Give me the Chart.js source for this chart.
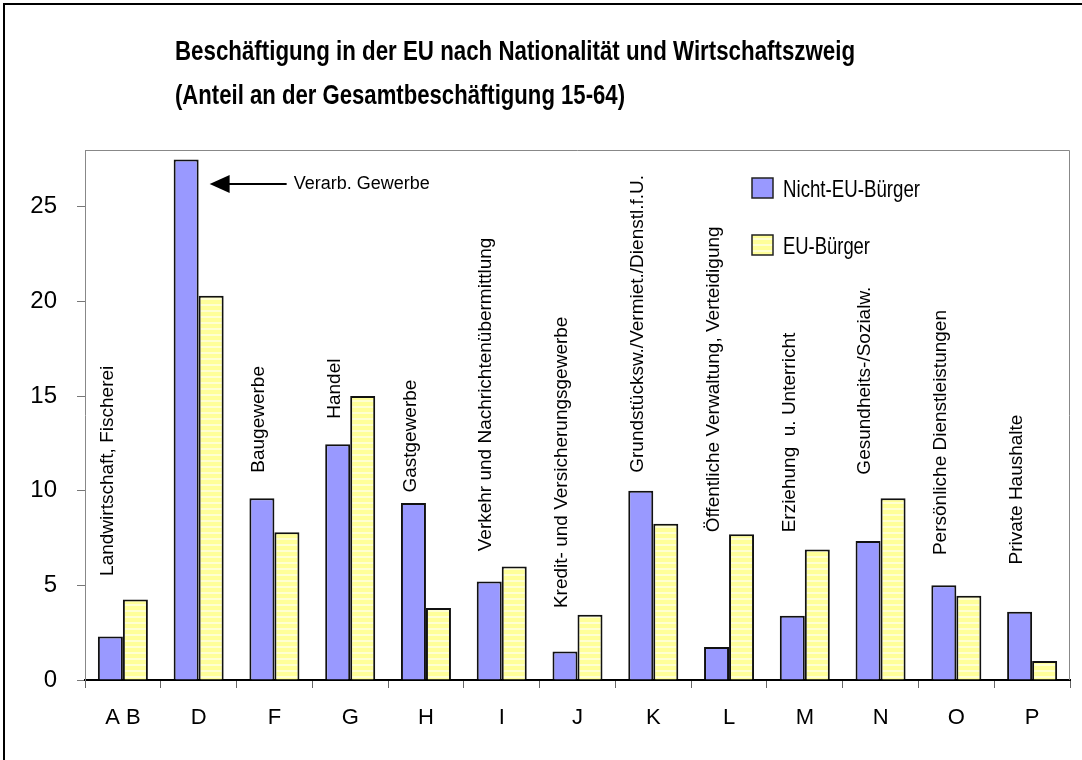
<!DOCTYPE html>
<html>
<head>
<meta charset="utf-8">
<script src="https://cdn.jsdelivr.net/npm/chart.js@4.4.1/dist/chart.umd.min.js"></script>
<style>
  html, body { margin: 0; padding: 0; background: #fff; }
  canvas { display: block; }
</style>
</head>
<body>
<canvas id="chart" width="1082" height="760"></canvas>
<script>
// categories (NACE sections) and the sector names written above the bars
var categories = ["A B", "D", "F", "G", "H", "I", "J", "K", "L", "M", "N", "O", "P"];
var sectors = ["Landwirtschaft, Fischerei", "", "Baugewerbe", "Handel", "Gastgewerbe",
  "Verkehr und Nachrichtenübermittlung", "Kredit- und Versicherungsgewerbe",
  "Grundstücksw./Vermiet./Dienstl.f.U.", "Öffentliche Verwaltung, Verteidigung",
  "Erziehung  u. Unterricht", "Gesundheits-/Sozialw.", "Persönliche Dienstleistungen", "Private Haushalte"];

// share of total employment 15-64 (%)
var nichtEU = [2.3, 27.5, 9.6, 12.45, 9.35, 5.2, 1.5, 10.0, 1.75, 3.4, 7.35, 5.0, 3.6];
var euBuerger = [4.25, 20.3, 7.8, 15.0, 3.8, 6.0, 3.45, 8.25, 7.7, 6.9, 9.6, 4.45, 1.0];

// where each sector label starts (value on the y axis)
var sectorLabelAt = [5.5, null, 10.95, 13.8, 9.9, 6.8, 3.8, 10.95, 7.8, 7.8, 10.85, 6.6, 6.1];

var canvas = document.getElementById("chart");
var ctx = canvas.getContext("2d");

// light yellow bars with pale horizontal stripes
var stripe = document.createElement("canvas");
stripe.width = 4;
stripe.height = 6;
var sctx = stripe.getContext("2d");
sctx.fillStyle = "#FFFF99";
sctx.fillRect(0, 0, 4, 6);
sctx.fillStyle = "#FFFFD2";
sctx.fillRect(0, 4, 4, 2);
var yellowPattern = ctx.createPattern(stripe, "repeat");

var narrow = "'Liberation Sans Narrow', 'Liberation Sans', Arial, sans-serif";
var regular = "'Liberation Sans', Arial, sans-serif";

var decorations = {
  id: "decorations",
  beforeDraw: function (chart) {
    var c = chart.ctx;
    c.save();
    c.fillStyle = "#fff";
    c.fillRect(0, 0, chart.width, chart.height);
    c.restore();
  },
  afterDraw: function (chart) {
    var c = chart.ctx;
    var area = chart.chartArea;
    var yScale = chart.scales.y;
    c.save();

    // outer frame (top + left)
    c.strokeStyle = "#000";
    c.lineWidth = 2;
    c.beginPath();
    c.moveTo(4, chart.height + 2);
    c.lineTo(4, 4);
    c.lineTo(chart.width + 2, 4);
    c.stroke();

    // plot frame top + right
    c.strokeStyle = "#888";
    c.lineWidth = 1;
    c.beginPath();
    c.moveTo(area.left, area.top + 0.5);
    c.lineTo(area.right - 0.5, area.top + 0.5);
    c.lineTo(area.right - 0.5, area.bottom);
    c.stroke();

    // title (condensed)
    c.fillStyle = "#000";
    c.textAlign = "left";
    c.textBaseline = "alphabetic";
    c.font = "bold 27px " + narrow;
    c.fillText("Beschäftigung in der EU nach Nationalität und Wirtschaftszweig", 175, 60, 680);
    c.fillText("(Anteil an der Gesamtbeschäftigung 15-64)", 175, 104, 450);

    // legend
    var items = [
      { text: "Nicht-EU-Bürger", fill: "#9999FF", y: 178, w: 137 },
      { text: "EU-Bürger", fill: yellowPattern, y: 235, w: 87 }
    ];
    items.forEach(function (it) {
      c.fillStyle = it.fill;
      c.fillRect(752, it.y, 21, 20);
      c.strokeStyle = "#222";
      c.lineWidth = 1.5;
      c.strokeRect(752, it.y, 21, 20);
      c.fillStyle = "#000";
      c.font = "24px " + narrow;
      c.textBaseline = "alphabetic";
      c.fillText(it.text, 783, it.y + 19, it.w);
    });

    // sector names, rotated, above the Nicht-EU bars
    var meta = chart.getDatasetMeta(0);
    c.font = "19px " + regular;
    c.fillStyle = "#000";
    sectors.forEach(function (name, i) {
      if (!name) return;
      var bar = meta.data[i];
      c.save();
      c.translate(bar.x - 3, yScale.getPixelForValue(sectorLabelAt[i]));
      c.rotate(-Math.PI / 2);
      c.textAlign = "left";
      c.textBaseline = "middle";
      c.fillText(name, 0, 0);
      c.restore();
    });

    // arrow to the manufacturing bar
    var dBar = meta.data[1];
    var ay = yScale.getPixelForValue(26.2);
    var tip = dBar.x + dBar.width / 2 + 11;
    c.fillStyle = "#000";
    c.beginPath();
    c.moveTo(tip, ay);
    c.lineTo(tip + 20, ay - 9);
    c.lineTo(tip + 20, ay + 9);
    c.closePath();
    c.fill();
    c.strokeStyle = "#000";
    c.lineWidth = 2;
    c.beginPath();
    c.moveTo(tip + 18, ay);
    c.lineTo(tip + 77, ay);
    c.stroke();
    c.font = "18px " + regular;
    c.textAlign = "left";
    c.textBaseline = "middle";
    c.fillText("Verarb. Gewerbe", tip + 84, ay);

    c.restore();
  }
};

var chart = new Chart(ctx, {
  type: "bar",
  data: {
    labels: categories,
    datasets: [{
      label: "Nicht-EU-Bürger",
      data: nichtEU,
      backgroundColor: "#9999FF",
      borderColor: "#111",
      borderWidth: 2
    }, {
      label: "EU-Bürger",
      data: euBuerger,
      backgroundColor: yellowPattern,
      borderColor: "#111",
      borderWidth: 2
    }]
  },
  options: {
    responsive: false,
    animation: false,
    layout: { padding: { top: 150, right: 12, left: 0, bottom: 0 } },
    datasets: { bar: { categoryPercentage: 0.66, barPercentage: 1.0 } },
    plugins: {
      legend: { display: false },
      title: { display: false },
      tooltip: { enabled: false }
    },
    scales: {
      x: {
        grid: { offset: true, drawOnChartArea: false, tickLength: 8, color: "#666" },
        border: { color: "#000", width: 2 },
        ticks: { color: "#000", padding: 17, font: { family: regular, size: 22 } },
        afterFit: function (scale) { scale.height = 80; }
      },
      y: {
        min: 0,
        max: 28,
        grid: { drawOnChartArea: false, tickLength: 8, color: "#777" },
        border: { color: "#888", width: 1 },
        ticks: {
          stepSize: 5,
          includeBounds: false,
          color: "#000",
          padding: 20,
          font: { family: narrow, size: 24 }
        },
        afterFit: function (scale) { scale.width = 85; }
      }
    }
  },
  plugins: [decorations]
});
</script>
</body>
</html>
